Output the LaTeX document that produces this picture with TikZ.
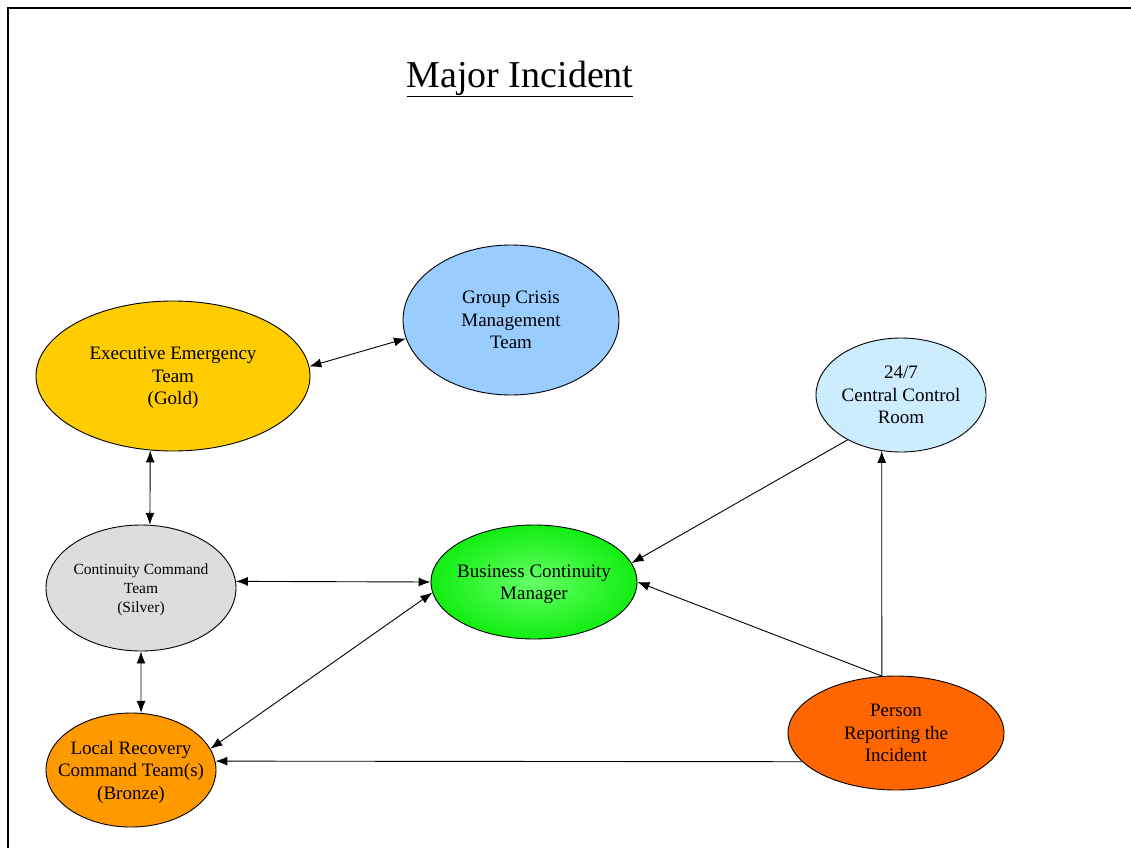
\documentclass[tikz,border=0pt]{standalone}
\usepackage{fontspec}
\setmainfont{Liberation Serif}
\usepackage{xcolor}
\usepackage{tikz}
\usetikzlibrary{shapes.geometric,arrows.meta}

\definecolor{goldc}{HTML}{FFCC00}
\definecolor{crisisc}{HTML}{99CCFF}
\definecolor{roomc}{HTML}{CCECFF}
\definecolor{silverc}{HTML}{DDDDDD}
\definecolor{bronzec}{HTML}{FF9900}
\definecolor{personc}{HTML}{FF6600}
\definecolor{bcmin}{HTML}{66FF66}
\definecolor{bcmout}{HTML}{11EE11}

\begin{document}
\begin{tikzpicture}[x=1pt,y=-1pt,>={Latex[length=12pt,width=9pt]},line width=0.9pt]
		\tikzstyle{team}=[ellipse,draw=black,line width=0.9pt,inner xsep=-14pt,inner ysep=0pt,
		text depth=0pt,align=center,font=\fontsize{19}{22.5}\selectfont]
		\tikzstyle{link}=[draw,<->]
		\tikzstyle{report}=[draw,->]
		
		\useasboundingbox (0,0) rectangle (1131,848);
		\draw[line width=1.8pt] (8,848) -- (8,8) -- (1131,8);
		
		\node (title) at (520,79) {\fontsize{38}{42}\selectfont\underline{Major Incident}};
		
		\node[team,fill=goldc,minimum width=274pt,minimum height=150pt] (gold) at (173,376)
		{Executive Emergency\\Team\\(Gold)};
		\node[team,fill=crisisc,minimum width=216pt,minimum height=150pt] (crisis) at (511,320)
		{Group Crisis\\Management\\Team};
		\node[team,fill=roomc,minimum width=170pt,minimum height=114pt] (room) at (901,395)
		{24/7\\Central Control\\Room};
		\node[team,fill=silverc,minimum width=190pt,minimum height=126pt,
		font=\fontsize{15.5}{19}\selectfont] (silver) at (141,588)
		{Continuity Command\\Team\\(Silver)};
		\node[team,inner color=bcmin,outer color=bcmout,minimum width=206pt,minimum height=114pt] (bcm) at (534,582)
		{Business Continuity\\Manager};
		\node[team,fill=bronzec,minimum width=170pt,minimum height=114pt] (bronze) at (131,770)
		{Local Recovery\\Command Team(s)\\(Bronze)};
		\node[team,fill=personc,minimum width=216pt,minimum height=114pt] (person) at (896,733)
		{Person\\Reporting the\\Incident};
		
		% two-way links between the teams
		\path[link] (gold.4) -- (crisis.190);
		\path[link] (gold.253) -- (silver.82);
		\path[link] (silver.4) -- (bcm.west);
		\path[link] (silver.south) -- (bronze.80);
		\path[link] (bcm.186) -- (bronze.15);
		
		% reporting lines
		\path[report] (room.220) -- (bcm.11);
		\path[report] (person.104) -- (bcm.east);
		\path[report] (person.104) -- (room.251);
		\path[report] (person.197) -- (bronze.6);
		\end{tikzpicture}
\end{document}
